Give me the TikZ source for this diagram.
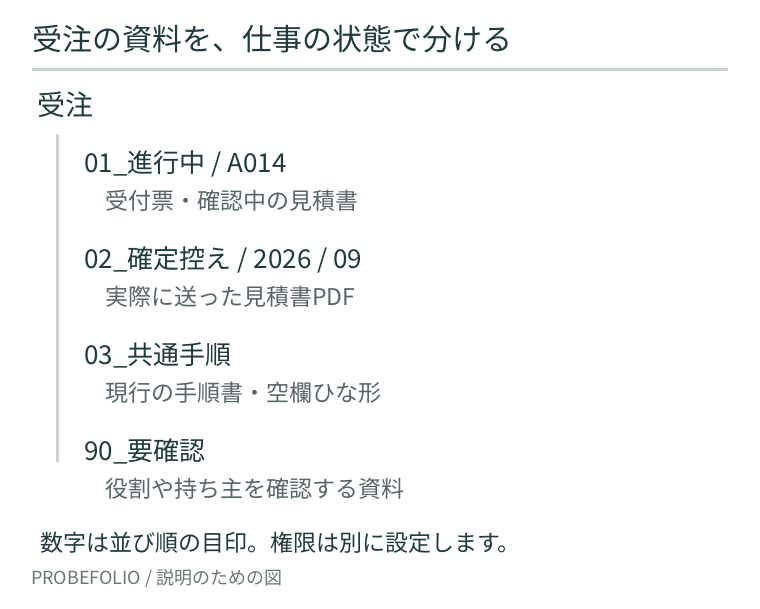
\documentclass[tikz,border=0pt]{standalone}
\usepackage{fontspec}
\setmainfont{Noto Sans CJK JP}
\definecolor{ink}{HTML}{1F3B3D}
\definecolor{sub}{HTML}{56666A}
\definecolor{foot}{HTML}{6B7777}
\definecolor{rulec}{HTML}{C8D3D0}
\begin{document}
\begin{tikzpicture}[x=1pt,y=-1pt,
  every node/.style={inner sep=0pt,outer sep=0pt,anchor=base west},
  titletext/.style={text=ink,font=\fontsize{30pt}{30pt}\selectfont},
  grouptext/.style={text=ink,font=\fontsize{28pt}{28pt}\selectfont},
  headtext/.style={text=ink,font=\fontsize{26pt}{26pt}\selectfont},
  desctext/.style={text=sub,font=\fontsize{23pt}{23pt}\selectfont},
  notetext/.style={text=ink,font=\fontsize{23pt}{23pt}\selectfont},
  foottext/.style={text=foot,font=\fontsize{18pt}{18pt}\selectfont},
  rulestyle/.style={draw=rulec,line width=3pt},
  barstyle/.style={draw=rulec,line width=3pt}]
\useasboundingbox[fill=white] (0,0) rectangle (760,608);
\node[titletext] (title) at (32,50) {受注の資料を、仕事の状態で分ける};
\coordinate (ruleL) at (32,69.5);
\coordinate (ruleR) at (728,69.5);
\draw[rulestyle] (ruleL) -- (ruleR);
\node[grouptext] (group) at (37.5,115.5) {受注};
\coordinate (barT) at (57,134);
\coordinate (barB) at (57,462);
\draw[barstyle] (barT) -- (barB);
\node[headtext] (h1) at (84.5,172) {01\_進行中 / A014};
\node[desctext] (d1) at (105,209) {受付票・確認中の見積書};
\node[headtext] (h2) at (84.5,268) {02\_確定控え / 2026 / 09};
\node[desctext] (d2) at (105,305) {実際に送った見積書PDF};
\node[headtext] (h3) at (84.5,364) {03\_共通手順};
\node[desctext] (d3) at (105,401) {現行の手順書・空欄ひな形};
\node[headtext] (h4) at (84.5,460) {90\_要確認};
\node[desctext] (d4) at (105,497) {役割や持ち主を確認する資料};
\node[notetext] (note) at (40,551) {数字は並び順の目印。権限は別に設定します。};
\node[foottext] (foot) at (31,584.5) {PROBEFOLIO / 説明のための図};
\end{tikzpicture}
\end{document}
